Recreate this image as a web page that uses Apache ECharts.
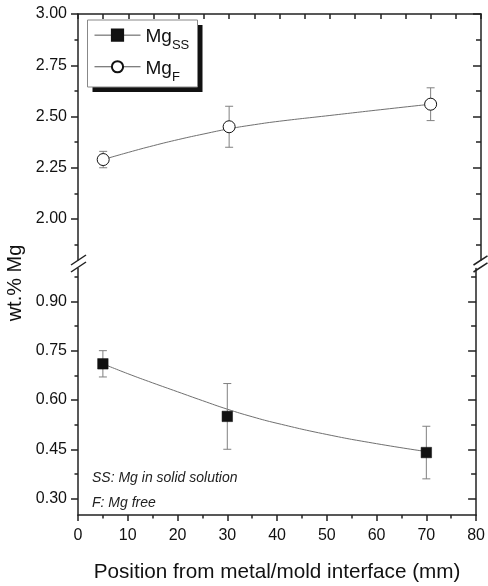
<!DOCTYPE html>
<html><head><meta charset="utf-8">
<script src="https://cdn.jsdelivr.net/npm/echarts@6/dist/echarts.min.js"></script>
<style>html,body{margin:0;padding:0;background:#fff}#c{width:488px;height:586px}</style>
</head><body><div id="c"></div>
<script>
const positions = [5, 30, 70];
const mgSS = [0.71, 0.55, 0.44];
const mgSSErr = [0.04, 0.10, 0.08];
const mgF = [2.29, 2.45, 2.56];
const mgFErr = [0.04, 0.10, 0.08];
const fitX = [5, 10, 15, 20, 25, 30, 35, 40, 50, 60, 70];
const fitSS = [0.710, 0.680, 0.652, 0.625, 0.598, 0.572, 0.549, 0.529, 0.495, 0.467, 0.443];
const fitF = [2.29, 2.325, 2.358, 2.388, 2.415, 2.44, 2.46, 2.477, 2.505, 2.533, 2.56];
const upperTicks = [2.00, 2.25, 2.50, 2.75, 3.00];
const upperMinor = [1.875, 2.125, 2.375, 2.625, 2.875];
const lowerTicks = [0.30, 0.45, 0.60, 0.75, 0.90];
const lowerMinor = [0.375, 0.525, 0.675, 0.825, 0.975];
const upperRange = [1.8, 3.0];
const lowerRange = [0.25, 1.0];
const xRange = [0, 80];

const FONT = '"Liberation Sans", Arial, sans-serif';
const AX = '#222';
const chart = echarts.init(document.getElementById('c'), null, {renderer: 'canvas'});

const G0 = {left: 78, right: 7, top: 14, height: 246};
const G1 = {left: 78, right: 7, top: 268.5, bottom: 71};

function yAx(grid, range, ticks, opt) {
  return Object.assign({
    type: 'value', gridIndex: grid, min: range[0], max: range[1],
    splitLine: {show: false},
    axisLine: {show: true, onZero: false, lineStyle: {color: AX, width: 1.5}},
    axisTick: {show: true, customValues: ticks, length: 7, lineStyle: {color: AX, width: 1.5}},
    axisLabel: {show: false}
  }, opt);
}

function errRender(params, api) {
  const x = api.value(0), lo = api.value(1), hi = api.value(2);
  const a = api.coord([x, lo]), b = api.coord([x, hi]);
  const w = 4;
  const st = {stroke: '#808080', lineWidth: 1, fill: null};
  return {type: 'group', children: [
    {type: 'line', shape: {x1: a[0], y1: a[1], x2: b[0], y2: b[1]}, style: st},
    {type: 'line', shape: {x1: a[0] - w, y1: a[1], x2: a[0] + w, y2: a[1]}, style: st},
    {type: 'line', shape: {x1: b[0] - w, y1: b[1], x2: b[0] + w, y2: b[1]}, style: st}
  ]};
}

const option = {
  animation: false,
  backgroundColor: '#fff',
  grid: [G0, G1],
  xAxis: [
    {type: 'value', gridIndex: 0, position: 'top', min: xRange[0], max: xRange[1], interval: 5,
     splitLine: {show: false},
     axisLine: {show: true, onZero: false, lineStyle: {color: AX, width: 1.5}},
     axisTick: {show: true, inside: true, length: 5, lineStyle: {color: AX, width: 1.5}},
     axisLabel: {show: false}},
    {type: 'value', gridIndex: 1, position: 'bottom', min: xRange[0], max: xRange[1], interval: 10,
     splitLine: {show: false},
     axisLine: {show: true, onZero: false, lineStyle: {color: AX, width: 1.5}},
     axisTick: {show: true, length: 6, lineStyle: {color: AX, width: 1.5}},
     minorTick: {show: true, splitNumber: 2, length: 3.5, lineStyle: {color: AX, width: 1.5}},
     axisLabel: {show: true, margin: 12.5, fontSize: 16, color: '#111', fontFamily: FONT},
     name: 'Position from metal/mold interface (mm)', nameLocation: 'middle', nameGap: 47,
     nameTextStyle: {fontSize: 20.7, color: '#111', fontFamily: FONT}}
  ],
  yAxis: [
    yAx(0, upperRange, upperTicks, {position: 'left',
      axisLabel: {show: true, customValues: upperTicks, margin: 11, fontSize: 16, color: '#111', fontFamily: FONT,
        formatter: v => v.toFixed(2)}}),
    yAx(0, upperRange, upperMinor, {position: 'left', axisLine: {show: false}, axisTick: {show: true, customValues: upperMinor, length: 3.5, lineStyle: {color: AX, width: 1.5}}}),
    yAx(0, upperRange, upperTicks, {position: 'right', axisTick: {show: true, inside: true, customValues: upperTicks, length: 8, lineStyle: {color: AX, width: 1.5}}}),
    yAx(0, upperRange, upperMinor, {position: 'right', axisLine: {show: false}, axisTick: {show: true, inside: true, customValues: upperMinor, length: 5, lineStyle: {color: AX, width: 1.5}}}),
    yAx(1, lowerRange, lowerTicks, {position: 'left',
      axisLabel: {show: true, customValues: lowerTicks, margin: 11, fontSize: 16, color: '#111', fontFamily: FONT,
        formatter: v => v.toFixed(2)}}),
    yAx(1, lowerRange, lowerMinor, {position: 'left', axisLine: {show: false}, axisTick: {show: true, customValues: lowerMinor, length: 3.5, lineStyle: {color: AX, width: 1.5}}}),
    yAx(1, lowerRange, lowerTicks, {position: 'right', axisTick: {show: true, inside: true, customValues: lowerTicks, length: 8, lineStyle: {color: AX, width: 1.5}}}),
    yAx(1, lowerRange, lowerMinor, {position: 'right', axisLine: {show: false}, axisTick: {show: true, inside: true, customValues: lowerMinor, length: 5, lineStyle: {color: AX, width: 1.5}}})
  ],
  legend: {
    data: ['Mg_SS', 'Mg_F'], orient: 'vertical', left: 94, top: 18, z: 20,
    padding: 0, itemGap: -2.7, itemWidth: 46, itemHeight: 14,
    selectedMode: false,
    lineStyle: {width: 1, color: '#555', opacity: 1},
    formatter: n => n === 'Mg_SS' ? '{m|Mg}{s|SS}' : '{m|Mg}{s|F}',
    textStyle: {fontFamily: FONT, color: '#111', rich: {
      m: {fontSize: 19, fontFamily: FONT, color: '#111', lineHeight: 20, padding: [9, 0, 5.3, 0]},
      s: {fontSize: 13, fontFamily: FONT, color: '#111', lineHeight: 13, padding: [21.3, 0, 0, 0]}
    }}
  },
  series: [
    {type: 'line', name: 'fitSS', xAxisIndex: 1, yAxisIndex: 4, smooth: true, showSymbol: false, silent: true,
     data: fitX.map((x, i) => [x, fitSS[i]]), lineStyle: {color: '#707070', width: 1}, z: 1},
    {type: 'line', name: 'fitF', xAxisIndex: 0, yAxisIndex: 0, smooth: true, showSymbol: false, silent: true,
     data: fitX.map((x, i) => [x, fitF[i]]), lineStyle: {color: '#707070', width: 1}, z: 1},
    {type: 'custom', name: 'errSS', xAxisIndex: 1, yAxisIndex: 4, renderItem: errRender, encode: {x: 0, y: [1, 2]},
     data: positions.map((x, i) => [x, mgSS[i] - mgSSErr[i], mgSS[i] + mgSSErr[i]]), z: 2, silent: true},
    {type: 'custom', name: 'errF', xAxisIndex: 0, yAxisIndex: 0, renderItem: errRender, encode: {x: 0, y: [1, 2]},
     data: positions.map((x, i) => [x, mgF[i] - mgFErr[i], mgF[i] + mgFErr[i]]), z: 2, silent: true},
    {type: 'line', name: 'Mg_SS', xAxisIndex: 1, yAxisIndex: 4, symbol: 'rect', symbolSize: 10.5, showAllSymbol: true,
     data: positions.map((x, i) => [x, mgSS[i]]),
     itemStyle: {color: '#111', borderColor: '#111', borderWidth: 0.5}, lineStyle: {width: 0, color: '#555'}, z: 3},
    {type: 'line', name: 'Mg_F', xAxisIndex: 0, yAxisIndex: 0, symbol: 'circle', symbolSize: 12, showAllSymbol: true,
     data: positions.map((x, i) => [x, mgF[i]]),
     itemStyle: {color: '#fff', borderColor: '#111', borderWidth: 1}, lineStyle: {width: 0, color: '#555'}, z: 3}
  ],
  graphic: [
    {type: 'rect', z: 5, shape: {x: 92.5, y: 25, width: 110, height: 67}, style: {fill: '#111'}},
    {type: 'rect', z: 6, shape: {x: 87.5, y: 20, width: 110, height: 67}, style: {fill: '#fff', stroke: '#888', lineWidth: 1}},
    {type: 'text', x: 15, y: 283, rotation: Math.PI / 2,
     style: {text: 'wt.% Mg', font: '20px ' + FONT, fill: '#111', align: 'center', verticalAlign: 'middle'}},
    {type: 'text', x: 92, y: 478,
     style: {text: 'SS: Mg in solid solution', font: 'italic 14px ' + FONT, fill: '#222', align: 'left', verticalAlign: 'middle'}},
    {type: 'text', x: 92, y: 503,
     style: {text: 'F: Mg free', font: 'italic 14px ' + FONT, fill: '#222', align: 'left', verticalAlign: 'middle'}},
    {type: 'line', shape: {x1: 71, y1: 265, x2: 86, y2: 255}, style: {stroke: AX, lineWidth: 1.5}},
    {type: 'line', shape: {x1: 71, y1: 272, x2: 86, y2: 262}, style: {stroke: AX, lineWidth: 1.5}},
    {type: 'line', shape: {x1: 473.5, y1: 265, x2: 487.5, y2: 255.8}, style: {stroke: AX, lineWidth: 1.5}},
    {type: 'line', shape: {x1: 473.5, y1: 272, x2: 487.5, y2: 262.8}, style: {stroke: AX, lineWidth: 1.5}}
  ]
};
chart.setOption(option);
</script></body></html>
